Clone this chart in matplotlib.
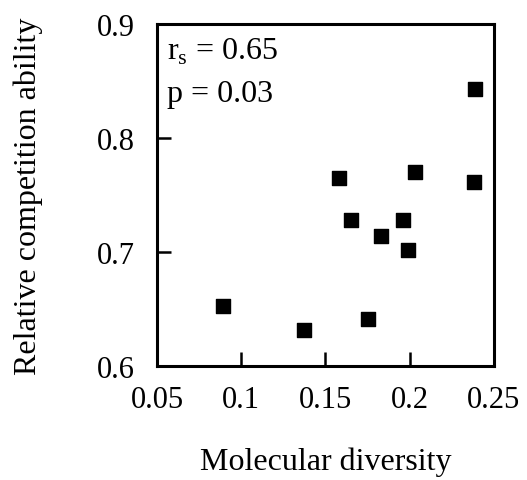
import matplotlib
matplotlib.use("Agg")
import matplotlib.pyplot as plt

plt.rcParams['font.family'] = ['Liberation Serif', 'DejaVu Serif']
plt.rcParams['mathtext.fontset'] = 'custom'
plt.rcParams['mathtext.rm'] = 'Liberation Serif'

diversity = [0.089, 0.137, 0.158, 0.165, 0.175, 0.183, 0.196, 0.199, 0.203, 0.238, 0.239]
competition = [0.653, 0.632, 0.765, 0.728, 0.641, 0.714, 0.728, 0.702, 0.770, 0.761, 0.843]
xticks = [0.05, 0.1, 0.15, 0.2, 0.25]
yticks = [0.6, 0.7, 0.8, 0.9]


def main():
    fig = plt.figure(figsize=(5.27, 4.81), dpi=100)
    ax = fig.add_axes([0.298, 0.237, 0.639, 0.711])
    ax.scatter(diversity, competition, marker='s', s=95, color='black', zorder=3)
    ax.set_xlim(0.05, 0.25)
    ax.set_ylim(0.6, 0.9)
    ax.set_xticks(xticks)
    ax.set_xticklabels(["0.05", "0.1", "0.15", "0.2", "0.25"])
    ax.set_yticks(yticks)
    ax.set_yticklabels(["0.6", "0.7", "0.8", "0.9"])
    ax.tick_params(direction='in', length=10, width=1.8, labelsize=22)
    ax.tick_params(axis='x', pad=14)
    ax.tick_params(axis='y', pad=16)
    for sp in ax.spines.values():
        sp.set_linewidth(2.2)
    ax.set_xlabel("Molecular diversity", fontsize=23, labelpad=23)
    ax.set_ylabel("Relative competition ability", fontsize=23, labelpad=39)
    ax.text(0.03, 0.965, r"r$_{\rm s}$ = 0.65", transform=ax.transAxes,
            fontsize=23, va='top', ha='left')
    ax.text(0.03, 0.84, "p = 0.03", transform=ax.transAxes,
            fontsize=23, va='top', ha='left')
    fig.savefig("out.png", dpi=100)


if __name__ == '__main__':
    main()
